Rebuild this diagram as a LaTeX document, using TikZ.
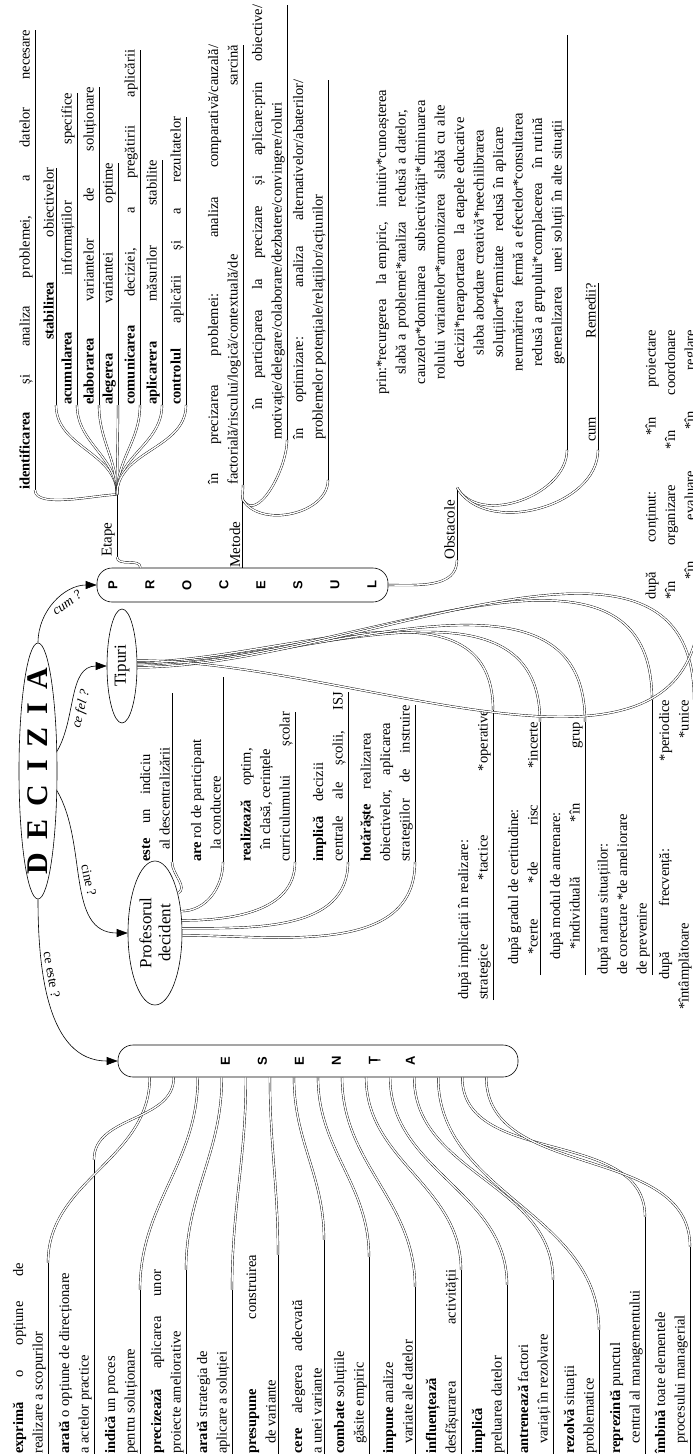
\documentclass[tikz,border=0pt]{standalone}
\usepackage{fontspec}
\setmainfont{Liberation Serif}
\newfontfamily\letterfont{Liberation Sans}
\usetikzlibrary{arrows.meta,shapes.geometric,calc}
\newcommand\leaffont{\fontsize{14.5}{19.5}\selectfont}
\newcommand\tailfill{\hfill\null}
\tikzset{
  leaf/.style={rotate=90,anchor=south west,text width=#1,align=justify,inner xsep=0pt,inner ysep=2pt,
    font=\leaffont,execute at begin node={\parfillskip=0pt\hyphenpenalty=10000\relax},
    append after command={(\tikzlastnode.south west) edge (\tikzlastnode.south east)}},
  tag/.style={leaf=#1,font=\fontsize{15}{17}\selectfont},
  bubble/.style={rotate=90,ellipse,draw,line width=0.6pt,inner sep=0pt,align=center,
    font=\fontsize{17}{19}\selectfont},
  stack/.style={rotate=90,draw,rounded corners=15pt,line width=0.6pt,align=center,inner sep=0pt,
    font=\letterfont\bfseries\fontsize{13}{37}\selectfont},
  twig/.style={double,double distance=1.4pt,line width=0.4pt},
  ask/.style={-{Triangle[length=11pt,width=8pt]},line width=0.6pt},
  asktext/.style={sloped,font=\fontsize{13.5}{15}\selectfont\itshape},
}
\begin{document}
\begin{tikzpicture}[x=1pt,y=-1pt]
\useasboundingbox (0,0) rectangle (693,1454);

% centre
\node[bubble,minimum width=256pt,minimum height=38pt,font=\fontsize{30}{32}\selectfont\bfseries]
  (dec) at (38,771) {\makebox[0pt]{D\hspace{13pt}E\hspace{13pt}C\hspace{13pt}I\hspace{13pt}Z\hspace{13pt}I\hspace{13pt}A}};
\node[stack,minimum width=34pt,minimum height=291pt] (proc) at (242.5,585) {P\\R\\O\\C\\E\\S\\U\\L};
\node[stack,minimum width=32pt,minimum height=400pt] (ess) at (318,1061) {E\\S\\E\\N\\Ț\\A};
\node[bubble,minimum width=114pt,minimum height=30pt] (tip) at (122,666) {Tipuri};
\node[bubble,minimum width=144pt,minimum height=54pt] (prof) at (155,933) {Profesorul\\decident};

\draw[ask] (dec.east) to[out=90,in=180] node[asktext,below,pos=0.6] {cum ?} (proc.north);
\draw[ask] (dec.-44) to[out=60,in=180] node[asktext,below,pos=0.4] {ce fel ?} (tip.north);
\draw[ask] (dec.-136) to[out=-60,in=180] node[asktext,above,pos=0.5,font=\fontsize{13.5}{15}\selectfont] {cine ?} (prof.north);
\draw[ask] (dec.west) to[out=-90,in=180] node[asktext,above,pos=0.35,font=\fontsize{13.5}{15}\selectfont] {ce este ?} (ess.north);

% PROCESUL: etape
\node[tag=62] (etape) at (117,557) {Etape};
\draw[twig] ($(proc.north east)!0.15!(proc.south east)$) to[out=90,in=-90] (etape.south west);
\node[leaf=460] (e1) at (35,490) {\textbf{identificarea} și analiza problemei, a datelor necesare};
\node[leaf=237] (e2) at (56,405) {\hspace*{65pt}\textbf{stabilirea} obiectivelor};
\node[leaf=312] (e3) at (77,405) {\textbf{acumularea} informațiilor specifice};
\node[leaf=318] (e4) at (99,405) {\textbf{elaborarea} variantelor de soluționare};
\node[leaf=242] (e5) at (118,405) {\textbf{alegerea} variantei optime};
\node[leaf=355] (e6) at (140,405) {\textbf{comunicarea} deciziei, a pregătirii aplicării};
\node[leaf=245] (e7) at (162,405) {\textbf{aplicarera} măsurilor stabilite};
\node[leaf=288] (e8) at (186,405) {\textbf{controlul} aplicării și a rezultatelor};
\draw[twig] (etape.south east) to[out=180,in=-90,looseness=0.6] (e1.south west);
\draw[twig] (etape.south east) to[out=90,in=-90] (e2.south west);
\draw[twig] (etape.south east) to[out=90,in=-90] (e3.south west);
\draw[twig] (etape.south east) to[out=90,in=-90] (e4.south west);
\draw[twig] (etape.south east) to[out=90,in=-90] (e5.south west);
\draw[twig] (etape.south east) to[out=90,in=-90] (e6.south west);
\draw[twig] (etape.south east) to[out=90,in=-90] (e7.south west);
\draw[twig] (etape.south east) to[out=90,in=-90] (e8.south west);

% PROCESUL: metode
\node[tag=68,anchor=south west] (metode) at (proc.east) {Metode};
\node[leaf=440] (m1) at (243,485) {în precizarea problemei: analiza comparativă/cauzală/\linebreak factorială/riscului/logică/contextuală/de sarcină};
\node[leaf=435] (m2) at (287,440) {\hspace*{30pt}în participarea la precizare și aplicare:prin obiective/\linebreak motivație/delegare/colaborare/dezbatere/convingere/roluri};
\node[leaf=400] (m3) at (328,480) {\hspace*{40pt}în optimizare: analiza alternativelor/abaterilor/\linebreak\hspace*{40pt}problemelor potențiale/relațiilor/acțiunilor\tailfill};
\draw[twig] (metode.south east) to[out=90,in=-90] (m1.south west);
\draw[twig] (metode.south east) to[out=-60,in=-90] (m2.south west);
\draw[twig] (metode.south east) to[out=-60,in=-90] (m3.south west);

% PROCESUL: obstacole
\node[tag=72] (obst) at (457,560) {Obstacole};
\draw[twig] (proc.south) to[out=0,in=-90] (obst.south west);
\node[leaf=415,align=center,execute at begin node={}] (o1) at (567,450)
  {prin:*recurgerea\quad la empiric,\quad intuitiv*cunoașterea\\
   slabă a problemei*analiza\quad redusă a datelor,\\
   cauzelor*dominarea\quad subiectivității*diminuarea\\
   rolului variantelor*armonizarea\quad slabă cu alte\\
   decizii*neraportarea\quad la etapele educative\\
   *slaba abordare creativă*neechilibrarea\\
   soluțiilor*fermitate\quad redusă în aplicare\\
   *neurmărirea\quad fermă a efectelor*consultarea\\
   redusă a grupului*complacerea\quad în rutină\\
   *generalizarea\quad unei soluții în alte situații};
\node[leaf=167] (o2) at (598,450) {\hspace*{8pt}cum Remedii?};
\draw[twig] (obst.south east) to[out=-60,in=-90] (o1.south west);
\draw[twig] (obst.south east) to[out=-60,in=-90] (o2.south west);

% profesorul decident
\node[leaf=169] (p1) at (172,862) {\textbf{este}\quad un\quad indiciu\tailfill\\\hspace*{12pt}al descentralizării\tailfill};
\node[leaf=185] (p2) at (223,862) {\textbf{are} rol de participant\\\hspace*{12pt}la conducere\tailfill};
\node[leaf=150] (p3) at (295,862) {\textbf{realizează}\quad optim,\\\hspace*{12pt}în clasă, cerințele\\curriculumului școlar};
\node[leaf=170] (p4) at (348,862) {\textbf{implică}\quad decizii\tailfill\\centrale ale școlii, ISJ};
\node[leaf=157] (p5) at (415,862) {\textbf{hotărăște}\quad realizarea\\obiectivelor,\quad aplicarea\\strategiilor de instruire};
\draw[twig] (prof.-30) to[out=30,in=-90] (p1.south west);
\draw[twig] (prof.-50) to[out=0,in=-90] (p2.south west);
\draw[twig] (prof.-65) to[out=0,in=-90] (p3.south west);
\draw[twig] (prof.-80) to[out=0,in=-90] (p4.south west);
\draw[twig] (prof.-95) to[out=0,in=-90] (p5.south west);

% tipuri
\node[leaf=290] (t1) at (493,1000) {după implicații în realizare:\\*strategice *tactice *operative};
\node[leaf=253] (t2) at (540,975) {\hspace*{10pt}după gradul de certitudine:\\\hspace*{20pt}*certe *de risc *incerte};
\node[leaf=253] (t3) at (585,975) {\hspace*{15pt}după modul de antrenare:\\\hspace*{25pt}*individuală *în grup};
\node[leaf=275] (t4) at (652,975) {după natura situațiilor:\\*de corectare *de ameliorare\\*de prevenire\tailfill};
\node[leaf=310] (t5) at (694,1010) {\hspace*{30pt}după frecvență: *periodice\linebreak *întâmplătoare *unice};
\node[leaf=270] (t6) at (700,600) {după conținut: *în proiectare\linebreak *în organizare *în coordonare\linebreak \hspace*{20pt}*în evaluare *în reglare};
\draw[twig] (tip.-75) to[out=0,in=90] (t1.south east);
\draw[twig] (tip.-80) to[out=0,in=90] (t2.south east);
\draw[twig] (tip.-85) to[out=0,in=90] (t3.south east);
\draw[twig] (tip.-90) to[out=0,in=90] (t4.south east);
\draw[twig] (tip.-95) to[out=0,in=90] (t5.south east);
\draw[twig] (tip.-70) to[out=0,in=-90] (t6.south west);

% esenta
\node[leaf=191] (s0) at (48,1454) {\textbf{exprimă} o opțiune de\linebreak realizare a scopurilor\tailfill};
\node[leaf=294] (s1) at (94,1454) {\textbf{arată} o opțiune de direcționare\\a actelor practice\tailfill};
\node[leaf=164] (s2) at (140,1454) {\textbf{indică} un proces\tailfill\\pentru soluționare\tailfill};
\node[leaf=184] (s3) at (186,1454) {\textbf{precizează} aplicarea unor\linebreak proiecte ameliorative\tailfill};
\node[leaf=164] (s4) at (232,1454) {\textbf{arată} strategia de\tailfill\\aplicare a soluției\tailfill};
\node[leaf=199] (s5) at (278,1454) {\textbf{presupune} construirea\linebreak\hspace*{10pt}de variante\tailfill};
\node[leaf=214] (s6) at (324,1454) {\textbf{cere}\quad alegerea\quad adecvată\tailfill\\a unei variante\tailfill};
\node[leaf=197] (s7) at (369,1454) {\textbf{combate} soluțiile\tailfill\\\hspace*{10pt}găsite empiric\tailfill};
\node[leaf=167] (s8) at (415,1454) {\textbf{impune} analize\\\hspace*{10pt}variate ale datelor\tailfill};
\node[leaf=184] (s9) at (461,1454) {\textbf{influențează}\\desfășurarea activității};
\node[leaf=169] (s10) at (507,1454) {\textbf{implică}\\preluarea datelor\tailfill};
\node[leaf=174] (s11) at (553,1454) {\textbf{antrenează} factori\\\hspace*{10pt}variați în rezolvare\tailfill};
\node[leaf=124] (s12) at (599,1454) {\textbf{rezolvă} situații\tailfill\\problematice\tailfill};
\node[leaf=237] (s13) at (645,1454) {\textbf{reprezintă} punctul\tailfill\\\hspace*{10pt}central al managementului\tailfill};
\node[leaf=207] (s14) at (690,1454) {\textbf{îmbină} toate elementele\tailfill\\\hspace*{10pt}procesului managerial\tailfill};
\draw[twig] ($(ess.north west)!0.08!(ess.south west)$) to[out=-90,in=90] (s0.south east);
\draw[twig] ($(ess.north west)!0.14!(ess.south west)$) to[out=-90,in=90] (s1.south east);
\draw[twig] ($(ess.north west)!0.20!(ess.south west)$) to[out=-90,in=90] (s2.south east);
\draw[twig] ($(ess.north west)!0.26!(ess.south west)$) to[out=-90,in=90] (s3.south east);
\draw[twig] ($(ess.north west)!0.32!(ess.south west)$) to[out=-90,in=90] (s4.south east);
\draw[twig] ($(ess.north west)!0.38!(ess.south west)$) to[out=-90,in=90] (s5.south east);
\draw[twig] ($(ess.north west)!0.44!(ess.south west)$) to[out=-90,in=90] (s6.south east);
\draw[twig] ($(ess.north west)!0.50!(ess.south west)$) to[out=-90,in=90] (s7.south east);
\draw[twig] ($(ess.north west)!0.56!(ess.south west)$) to[out=-90,in=90] (s8.south east);
\draw[twig] ($(ess.north west)!0.62!(ess.south west)$) to[out=-90,in=90] (s9.south east);
\draw[twig] ($(ess.north west)!0.68!(ess.south west)$) to[out=-90,in=90] (s10.south east);
\draw[twig] ($(ess.north west)!0.74!(ess.south west)$) to[out=-90,in=90] (s11.south east);
\draw[twig] ($(ess.north west)!0.80!(ess.south west)$) to[out=-90,in=90] (s12.south east);
\draw[twig] ($(ess.north west)!0.86!(ess.south west)$) to[out=-90,in=90] (s13.south east);
\draw[twig] ($(ess.north west)!0.92!(ess.south west)$) to[out=-90,in=90] (s14.south east);
\end{tikzpicture}
\end{document}
